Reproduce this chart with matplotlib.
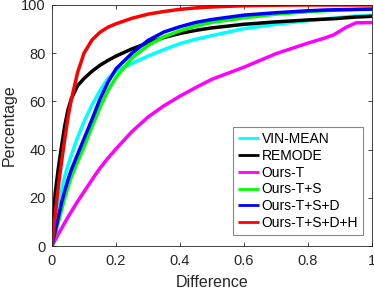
import numpy as np
import matplotlib
matplotlib.use("Agg")
import matplotlib.pyplot as plt

plt.rcParams['font.family'] = ['Liberation Sans', 'DejaVu Sans']

# threshold grid (Difference) shared by every curve
diff = [0, 0.01, 0.02, 0.03, 0.04, 0.05, 0.06, 0.08, 0.1, 0.125, 0.15, 0.175, 0.2,
        0.25, 0.3, 0.35, 0.4, 0.45, 0.5, 0.6, 0.7, 0.8, 0.85, 0.88, 0.92, 0.95, 1.0]

vin_mean = [0, 8, 16.5, 23.5, 29, 33.5, 37.5, 45, 51.5, 58.5, 64.5, 69.5, 72.5,
            75.8, 78.8, 81.5, 84, 85.8, 87.3, 90.2, 92, 93.5, 94.2, 94.6, 95.1, 95.4, 95.8]
remode = [0, 22, 32.5, 41.5, 50, 56.5, 61, 66.5, 69.5, 72.5, 75, 77, 78.8,
          81.8, 84.3, 86.5, 88.2, 89.5, 90.5, 92, 93, 93.8, 94.1, 94.3, 94.7, 95, 95.3]
ours_t = [0, 2.5, 5, 7.3, 9.7, 12, 14.2, 18.5, 22.5, 27.5, 32.3, 36.5, 40.3,
          47.5, 53.5, 58.2, 62.2, 65.8, 69.2, 74.2, 79.8, 84.2, 86.2, 87.6, 90.8, 92.6, 92.7]
ours_ts = [0, 5, 10, 15, 20, 24.5, 28.5, 35, 41, 49.5, 57.5, 64.5, 70,
           78, 83.2, 86.8, 89.3, 91.3, 92.8, 94.7, 96.2, 97.2, 97.6, 97.8, 98, 98.1, 98.2]
ours_tsd = [0, 6, 12, 18, 23, 27.5, 31.5, 38, 44.5, 52.5, 61, 68, 73.5,
            80, 85.3, 88.8, 91, 92.8, 94, 95.8, 96.8, 97.6, 97.9, 98, 98.1, 98.2, 98.3]
ours_tsdh = [0, 13, 25, 35, 44.5, 53.5, 60.5, 72, 80, 85.5, 88.7, 90.8, 92.2,
             94.5, 96.2, 97.3, 98.2, 98.8, 99.2, 99.7, 99.9, 100, 100, 100, 100, 100, 100]

labels = ['VIN-MEAN', 'REMODE', 'Ours-T', 'Ours-T+S', 'Ours-T+S+D', 'Ours-T+S+D+H']
colors = ['#00ffff', '#000000', '#ff00ff', '#00ff00', '#0000ff', '#ff0000']
series = [vin_mean, remode, ours_t, ours_ts, ours_tsd, ours_tsdh]

fig = plt.figure(figsize=(3.74, 2.91), dpi=100)
ax = fig.add_axes([52/374, 45/291, 320/374, 241/291])

for y, c, lab in zip(series, colors, labels):
    ax.plot(diff, y, color=c, lw=2.5, label=lab, solid_capstyle='butt')

ax.set_xlim(0, 1)
ax.set_ylim(0, 100)
ax.set_xticks([0, 0.2, 0.4, 0.6, 0.8, 1])
ax.set_xticklabels(['0', '0.2', '0.4', '0.6', '0.8', '1'])
ax.set_yticks([0, 20, 40, 60, 80, 100])

axc = '#262626'
for s in ax.spines.values():
    s.set_color(axc)
    s.set_linewidth(0.6)
ax.tick_params(direction='in', length=2.8, width=0.6, color=axc, labelcolor=axc,
               labelsize=10.5, top=True, right=True)
ax.tick_params(axis='x', pad=6)
ax.tick_params(axis='y', pad=4.5)
ax.set_xlabel('Difference', fontsize=11.5, color=axc, labelpad=5)
ax.set_ylabel('Percentage', fontsize=11.5, color=axc, labelpad=3)

leg = ax.legend(loc='lower right', bbox_to_anchor=(0.972, 0.046), borderaxespad=0,
                fontsize=10, handlelength=1.5, handletextpad=0.2, labelspacing=0.2,
                borderpad=0.35, fancybox=False, framealpha=1, edgecolor='#888888')
leg.get_frame().set_linewidth(0.8)
for h in leg.get_lines():
    h.set_linewidth(2)

fig.savefig('out.png', dpi=100)
